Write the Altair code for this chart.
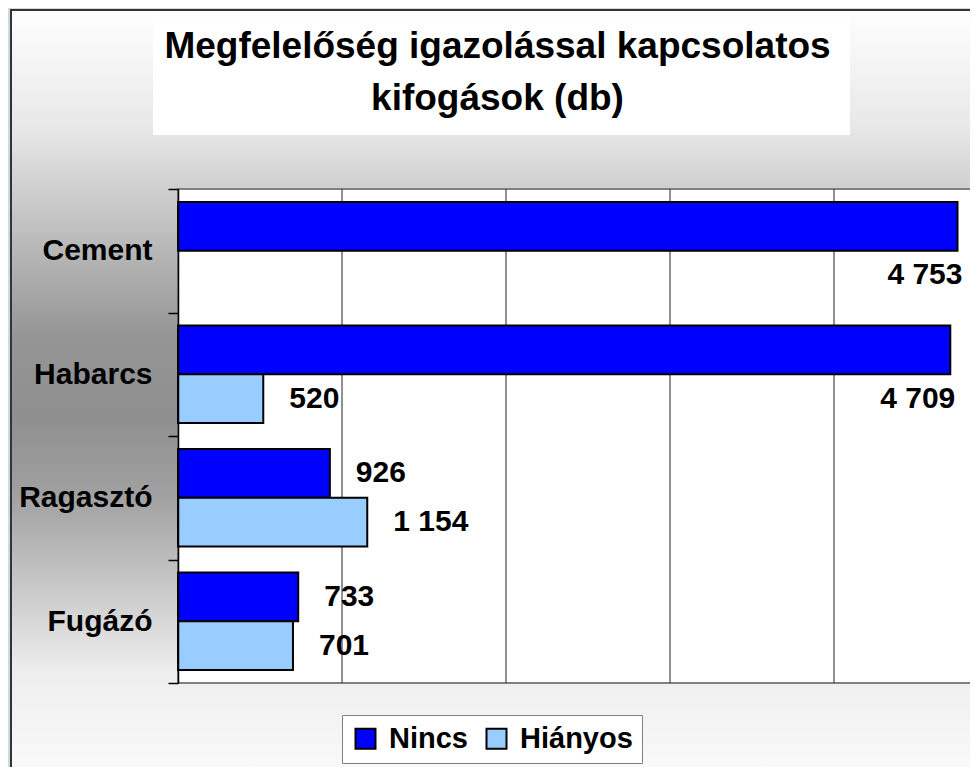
import altair as alt
import pandas as pd

# ---- data ----
categories = ["Cement", "Habarcs", "Ragasztó", "Fugázó"]
series = ["Nincs", "Hiányos"]
nincs = [4753, 4709, 926, 733]
hianyos = [None, 520, 1154, 701]
grid_values = [1000, 2000, 3000, 4000, 5000]
title_lines = ["Megfelelőség igazolással kapcsolatos", "kifogások (db)"]
colors = ["#0000FF", "#99CCFF"]

rows = []
for c, n, h in zip(categories, nincs, hianyos):
    rows.append({"kategoria": c, "sorozat": "Nincs", "db": n})
    rows.append({"kategoria": c, "sorozat": "Hiányos", "db": h})
df = pd.DataFrame(rows)

FONT = "Liberation Sans"
W, H = 792, 494

x_scale = alt.Scale(domain=[0, 5000], range=[0, 820], nice=False, zero=True)
y_axis = alt.Axis(
    title=None, labelFont=FONT, labelFontSize=30, labelFontWeight="bold",
    labelColor="black", labelPadding=16, tickSize=10, tickColor="black",
    tickWidth=1.5, tickBand="extent", domainColor="black", domainWidth=1.5,
    zindex=1, grid=False,
)
y_scale = alt.Scale(domain=categories, paddingInner=0, paddingOuter=0)
off_scale = alt.Scale(domain=series, paddingInner=0, paddingOuter=0.267)


def y_enc():
    return alt.Y("kategoria:N", scale=y_scale, axis=y_axis)


def off_enc(field):
    return alt.YOffset(field, scale=off_scale)


one = alt.Data(values=[{}])

# outer gradient panel
bg = alt.Chart(one).mark_rect(
    fill=alt.LinearGradient(
        gradient="linear", x1=0, y1=0, x2=0, y2=1,
        stops=[
            alt.GradientStop(color="#fefefe", offset=0),
            alt.GradientStop(color="#e8e8e8", offset=0.15),
            alt.GradientStop(color="#959595", offset=0.42),
            alt.GradientStop(color="#8f8f8f", offset=0.52),
            alt.GradientStop(color="#a0a0a0", offset=0.62),
            alt.GradientStop(color="#eeeeee", offset=0.85),
            alt.GradientStop(color="#fcfcfc", offset=1),
        ],
    ),
    stroke="#333333", strokeWidth=2,
).encode(x=alt.value(-167), x2=alt.value(900), y=alt.value(-179), y2=alt.value(601))

# white title box + title text
title_box = alt.Chart(one).mark_rect(fill="white").encode(
    x=alt.value(-25), x2=alt.value(672), y=alt.value(-172), y2=alt.value(-54)
)
title_txt = alt.Chart(one).mark_text(
    text=title_lines, font=FONT, fontSize=37, fontWeight="bold", color="black",
    align="center", baseline="alphabetic", lineHeight=52,
).encode(x=alt.value(319.5), y=alt.value(-131))

# white plot area
plot_rect = alt.Chart(one).mark_rect(fill="white", stroke="#808080", strokeWidth=2).encode(
    x=alt.value(0), x2=alt.value(830), y=alt.value(0), y2=alt.value(H)
)

grid = alt.Chart(pd.DataFrame({"g": grid_values})).mark_rule(color="#222222", strokeWidth=1).encode(
    x=alt.X("g:Q", scale=x_scale, axis=None), y=alt.value(0), y2=alt.value(H)
)

bars = alt.Chart(df).mark_bar(stroke="black", strokeWidth=2).encode(
    x=alt.X("db:Q", scale=x_scale, axis=None),
    y=y_enc(),
    yOffset=off_enc("sorozat:N"),
    color=alt.Color(
        "sorozat:N",
        scale=alt.Scale(domain=series, range=colors),
        legend=alt.Legend(
            orient="none", legendX=164, legendY=526, direction="horizontal",
            title=None, symbolType="square", symbolSize=400,
            symbolStrokeColor="black", symbolStrokeWidth=2, symbolOpacity=1,
            labelFont=FONT, labelFontSize=29, labelFontWeight="bold",
            labelColor="black", labelOffset=9, columnPadding=14,
            padding=9, fillColor="white", strokeColor="#808080",
        ),
    ),
)

txt_base = alt.Chart(df).transform_filter("isValid(datum.db)").transform_calculate(
    felirat="replace(format(datum.db, ','), ',', ' ')"
)
small_lbl = txt_base.transform_filter("datum.db < 4000").mark_text(
    align="left", baseline="middle", dx=26, font=FONT, fontSize=30,
    fontWeight="bold", color="black",
).encode(
    x=alt.X("db:Q", scale=x_scale, axis=None),
    y=y_enc(),
    yOffset=off_enc("sorozat:N"),
    text="felirat:N",
)
big_lbl = txt_base.transform_filter("datum.db >= 4000").transform_calculate(
    hely="'Hiányos'"
).mark_text(
    align="right", baseline="middle", dx=5, font=FONT, fontSize=30,
    fontWeight="bold", color="black",
).encode(
    x=alt.X("db:Q", scale=x_scale, axis=None),
    y=y_enc(),
    yOffset=off_enc("hely:N"),
    text="felirat:N",
)

chart = alt.layer(
    bg, title_box, title_txt, plot_rect, grid, bars, small_lbl, big_lbl
).properties(
    width=W, height=H,
    padding={"left": 170, "top": 181, "right": 0, "bottom": 84},
    autosize=alt.AutoSizeParams(type="none"),
    background="#cddbe4",
).configure_view(stroke=None)

chart.save("out.html", embed_options={"renderer": "svg", "actions": False})
